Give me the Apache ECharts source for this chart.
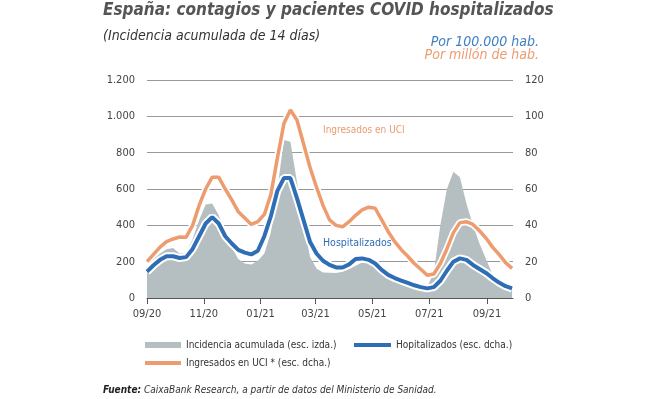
<!DOCTYPE html>
<html>
<head>
<meta charset="utf-8">
<script src="https://cdn.jsdelivr.net/npm/echarts@6/dist/echarts.min.js"></script>
<style>
  html, body { margin: 0; padding: 0; background: #fff; }
  #main { width: 670px; height: 399px; }
</style>
</head>
<body>
<div id="main"></div>
<script>
// weekly readings, 1 sep 2020 .. 28 sep 2021
var dates = [
  '2020-09-01','2020-09-08','2020-09-15','2020-09-22','2020-09-29','2020-10-06','2020-10-13','2020-10-20',
  '2020-10-27','2020-11-03','2020-11-10','2020-11-17','2020-11-24','2020-12-01','2020-12-08','2020-12-15',
  '2020-12-22','2020-12-29','2021-01-05','2021-01-12','2021-01-19','2021-01-26','2021-02-02','2021-02-09',
  '2021-02-16','2021-02-23','2021-03-02','2021-03-09','2021-03-16','2021-03-23','2021-03-30','2021-04-06',
  '2021-04-13','2021-04-20','2021-04-27','2021-05-04','2021-05-11','2021-05-18','2021-05-25','2021-06-01',
  '2021-06-08','2021-06-15','2021-06-22','2021-06-29','2021-07-06','2021-07-13','2021-07-20','2021-07-27',
  '2021-08-03','2021-08-10','2021-08-17','2021-08-24','2021-08-31','2021-09-07','2021-09-14','2021-09-21',
  '2021-09-28'
];

// incidencia acumulada 14 dias, por 100.000 hab. (esc. izda.)
var incidencia = [
  160, 215, 245, 268, 275, 245, 245, 325, 430, 515, 520, 455, 360, 280, 215, 190,
  185, 205, 245, 360, 600, 870, 860, 640, 420, 227, 163, 140, 139, 138, 145, 160,
  178, 195, 200, 190, 155, 127, 115, 105, 95, 82, 72, 62, 140, 400, 600, 695,
  665, 520, 400, 300, 215, 130, 100, 78, 60
];

// hospitalizados, por 100.000 hab. (esc. dcha.)
var hospitalizados = [
  14.5, 18, 21, 23, 23, 22, 22.5, 27, 34, 41, 44.5, 41, 34, 30, 26.5, 25,
  24, 26, 34, 45, 59, 66, 66, 55, 43, 31, 24.5, 20.5, 18.2, 16.8, 16.8, 18.5,
  21.5, 21.8, 21, 19, 15.5, 12.7, 11, 9.6, 8.3, 7, 6, 5.3, 6, 9.5, 15, 20,
  21.8, 21, 18.2, 16, 13.8, 11, 8.5, 6.5, 5.3
];

// ingresados en UCI, por millon de hab. (esc. dcha.)
var uci = [
  20, 24, 28, 31, 32.5, 33.6, 33.5, 40, 51, 60, 66.5, 66.5, 60, 54, 47.5, 44,
  40.5, 42, 46, 57, 77, 96, 103.5, 98, 85, 72, 61, 51, 43, 40, 39.2, 42,
  45.5, 48.5, 50, 49.4, 43, 36.5, 31, 26.6, 23, 19, 15.8, 12.5, 13.2, 19, 27, 36,
  41.5, 42, 40.5, 37, 33, 28, 24, 19.5, 16.3
];

var tickDates = ['2020-09-01','2020-11-01','2021-01-01','2021-03-01','2021-05-01','2021-07-01','2021-09-01'];
var tickLabels = ['09/20','11/20','01/21','03/21','05/21','07/21','09/21'];

var names = ['Incidencia acumulada (esc. izda.)', 'Hopitalizados (esc. dcha.)', 'Ingresados en UCI * (esc. dcha.)'];

var FONT = "'Liberation Sans Narrow', 'DejaVu Sans Condensed', sans-serif";
var GRAY = '#b5bfc1', BLUE = '#2f6db5', ORANGE = '#ec9c6e';

// x axis in days counted from 1 sep 2020
var START = Date.UTC(2020, 8, 1);
function dayOf(d) {
  return Math.round((Date.parse(d + 'T00:00:00Z') - START) / 86400000);
}
function pairs(vals) {
  return dates.map(function (d, i) { return [dayOf(d), vals[i]]; });
}
function miles(v) {
  return String(v).replace(/\B(?=(\d{3})+(?!\d))/g, '.');
}
var tickDays = tickDates.map(dayOf);

var chartDom = document.getElementById('main');
var myChart = echarts.init(chartDom, null, { renderer: 'canvas' });

var option = {
  animation: false,
  textStyle: { fontFamily: FONT },
  title: [
    {
      text: 'España: contagios y pacientes COVID hospitalizados',
      left: 98, top: -3,
      textStyle: { fontFamily: FONT, fontSize: 17, fontWeight: 'bold', fontStyle: 'italic', color: '#555' }
    },
    {
      text: '(Incidencia acumulada de 14 días)',
      left: 98, top: 24,
      textStyle: { fontFamily: FONT, fontSize: 14, fontWeight: 'normal', fontStyle: 'italic', color: '#333' }
    },
    {
      text: 'Por 100.000 hab.',
      right: 126, top: 30,
      textStyle: { fontFamily: FONT, fontSize: 14, fontWeight: 'normal', fontStyle: 'italic', color: '#3f7fc4' }
    },
    {
      text: 'Por millón de hab.',
      right: 126, top: 43,
      textStyle: { fontFamily: FONT, fontSize: 14, fontWeight: 'normal', fontStyle: 'italic', color: ORANGE }
    },
    {
      text: '{b|Fuente:} CaixaBank Research, a partir de datos del Ministerio de Sanidad.',
      left: 98, top: 380,
      textStyle: {
        fontFamily: FONT, fontSize: 10, fontWeight: 'normal', fontStyle: 'italic', color: '#333',
        rich: { b: { fontFamily: FONT, fontSize: 10, fontWeight: 'bold', fontStyle: 'italic', color: '#222' } }
      }
    }
  ],
  legend: [
    {
      data: [{ name: names[0], icon: 'rect' }],
      left: 140, top: 335, itemWidth: 36, itemHeight: 6, itemGap: 8,
      textStyle: { fontFamily: FONT, fontSize: 10, color: '#333' }
    },
    {
      data: [{ name: names[1], icon: 'rect' }],
      left: 349, top: 335, itemWidth: 37, itemHeight: 4,
      textStyle: { fontFamily: FONT, fontSize: 10, color: '#333' }
    },
    {
      data: [{ name: names[2], icon: 'rect' }],
      left: 140, top: 353, itemWidth: 36, itemHeight: 4,
      textStyle: { fontFamily: FONT, fontSize: 10, color: '#333' }
    }
  ],
  grid: { left: 147, right: 157, top: 80, bottom: 101, containLabel: false },
  xAxis: {
    type: 'value',
    min: 0,
    max: dayOf('2021-09-29'),
    axisLine: { show: true, onZero: false, lineStyle: { color: '#555', width: 1 } },
    axisTick: { show: true, length: 6, lineStyle: { color: '#555' }, customValues: tickDays },
    axisLabel: {
      customValues: tickDays,
      color: '#444', fontSize: 11, margin: 11, fontFamily: FONT,
      formatter: function (v) {
        var i = tickDays.indexOf(v);
        return i >= 0 ? tickLabels[i] : '';
      }
    },
    splitLine: { show: false }
  },
  yAxis: [
    {
      type: 'value', min: 0, max: 1200, interval: 200,
      axisLine: { show: false }, axisTick: { show: false },
      axisLabel: { color: '#444', fontSize: 11, margin: 12, fontFamily: FONT, formatter: miles },
      splitLine: { lineStyle: { color: '#999', width: 1 } }
    },
    {
      type: 'value', min: 0, max: 120, interval: 20,
      axisLine: { show: false }, axisTick: { show: false },
      axisLabel: { color: '#444', fontSize: 11, margin: 12, fontFamily: FONT },
      splitLine: { show: false }
    }
  ],
  series: [
    {
      name: names[0], type: 'line', yAxisIndex: 0,
      data: pairs(incidencia), symbol: 'none', color: GRAY,
      itemStyle: { color: GRAY },
      lineStyle: { width: 0 },
      areaStyle: { color: GRAY, opacity: 1 },
      z: 1
    },
    {
      name: 'halo-uci', type: 'line', yAxisIndex: 1,
      data: pairs(uci), symbol: 'none', silent: true,
      lineStyle: { color: '#fff', width: 7 }, z: 2
    },
    {
      name: 'halo-hosp', type: 'line', yAxisIndex: 1,
      data: pairs(hospitalizados), symbol: 'none', silent: true,
      lineStyle: { color: '#fff', width: 8 }, z: 2
    },
    {
      name: names[2], type: 'line', yAxisIndex: 1,
      data: pairs(uci), symbol: 'none', color: ORANGE,
      itemStyle: { color: ORANGE },
      lineStyle: { color: ORANGE, width: 3.5 }, z: 3,
      markPoint: {
        symbol: 'circle', symbolSize: 0, silent: true,
        label: {
          show: true, position: 'right', distance: 0,
          color: ORANGE, fontSize: 10, fontFamily: FONT,
          formatter: 'Ingresados en UCI'
        },
        data: [{ coord: [dayOf('2021-03-09'), 92] }]
      }
    },
    {
      name: names[1], type: 'line', yAxisIndex: 1,
      data: pairs(hospitalizados), symbol: 'none', color: BLUE,
      itemStyle: { color: BLUE },
      lineStyle: { color: BLUE, width: 4 }, z: 4,
      markPoint: {
        symbol: 'circle', symbolSize: 0, silent: true,
        label: {
          show: true, position: 'right', distance: 0,
          color: BLUE, fontSize: 10.5, fontFamily: FONT,
          formatter: 'Hospitalizados'
        },
        data: [{ coord: [dayOf('2021-03-09'), 30.3] }]
      }
    }
  ]
};

myChart.setOption(option);
window.addEventListener('resize', function () { myChart.resize(); });
</script>
</body>
</html>
